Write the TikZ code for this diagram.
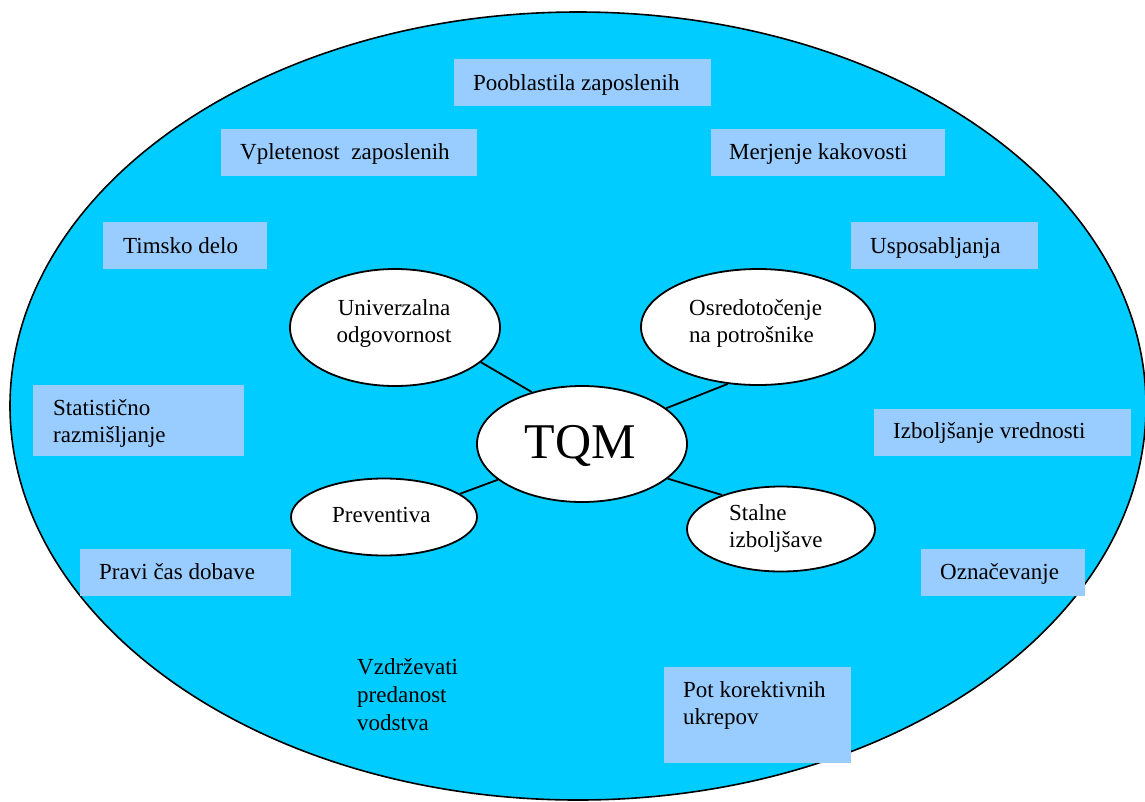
\documentclass[tikz,border=0pt]{standalone}
\usepackage{fontspec}
\setmainfont{Liberation Serif}
\usetikzlibrary{shapes.geometric}
\definecolor{bigfill}{RGB}{0,204,255}
\definecolor{boxfill}{RGB}{153,204,255}
\begin{document}
\begin{tikzpicture}[x=1pt,y=-1pt,
  txt/.style={font=\fontsize{23}{27}\selectfont, inner sep=0pt, align=left, anchor=base west},
  ctxt/.style={font=\fontsize{23}{27}\selectfont, inner sep=0pt, align=center, anchor=base},
  box/.style={fill=boxfill, draw=none, inner sep=0pt, anchor=north west},
  oval/.style={ellipse, draw=black, fill=white, line width=1.8pt, inner sep=0pt},
  link/.style={line width=1.8pt}]
\useasboundingbox (0,0) rectangle (1145,801);
% background field
\node[ellipse, draw=black, fill=bigfill, line width=1.6pt, inner sep=0pt,
      minimum width=1136pt, minimum height=788pt] (field) at (578,406) {};

% boxes (multi-line texts are placed by the baseline of their last line)
\node[box, minimum width=257pt, minimum height=47pt] (b1) at (454,59) {};
\node[txt] (t1) at (473,90) {Pooblastila zaposlenih};
\node[box, minimum width=256pt, minimum height=47pt] (b2) at (221,129) {};
\node[txt] (t2) at (240,159) {Vpletenost\ \ zaposlenih};
\node[box, minimum width=234pt, minimum height=47pt] (b3) at (711,129) {};
\node[txt] (t3) at (729,159) {Merjenje kakovosti};
\node[box, minimum width=164pt, minimum height=47pt] (b4) at (103,222) {};
\node[txt] (t4) at (123,253) {Timsko delo};
\node[box, minimum width=187pt, minimum height=47pt] (b5) at (851,222) {};
\node[txt] (t5) at (870,253) {Usposabljanja};
\node[box, minimum width=211pt, minimum height=71pt] (b6) at (33,385) {};
\node[txt] (t6) at (53,442) {Statistično\\razmišljanje};
\node[box, minimum width=257pt, minimum height=47pt] (b7) at (874,409) {};
\node[txt] (t7) at (893,438) {Izboljšanje vrednosti};
\node[box, minimum width=211pt, minimum height=47pt] (b8) at (80,549) {};
\node[txt] (t8) at (99,579) {Pravi čas dobave};
\node[box, minimum width=164pt, minimum height=47pt] (b9) at (921,549) {};
\node[txt] (t9) at (940,579) {Označevanje};
\node[box, minimum width=187pt, minimum height=96pt] (b10) at (664,667) {};
\node[txt] (t10) at (683,724) {Pot korektivnih\\ukrepov};
\node[txt, font=\fontsize{23}{28}\selectfont] (t11) at (357,730) {Vzdrževati\\predanost\\vodstva};

% ellipses
\node[oval, minimum width=210pt, minimum height=117pt] (univ) at (395,327.5) {};
\node[ctxt] (univT) at (394,342) {Univerzalna\\odgovornost};
\node[oval, minimum width=234pt, minimum height=116pt] (osr) at (758,327) {};
\node[txt] (osrT) at (689,342) {Osredotočenje\\na potrošnike};
\node[oval, minimum width=210pt, minimum height=116pt] (tqm) at (582,444) {};
\node[font=\fontsize{50}{60}\selectfont, inner sep=0pt, anchor=base] (tqmT) at (580,458) {TQM};
\node[oval, minimum width=186pt, minimum height=77pt] (prev) at (384,517) {};
\node[txt] (prevT) at (332,522) {Preventiva};
\node[oval, minimum width=188pt, minimum height=85pt] (stal) at (781,529) {};
\node[txt] (stalT) at (729,547) {Stalne\\izboljšave};

% connectors
\draw[link] (univ.-22.6) -- (tqm.134);
\draw[link] (osr.242) -- (tqm.23);
\draw[link] (tqm.203.4) -- (prev.17.7);
\draw[link] (tqm.-22.6) -- (stal.150);
\end{tikzpicture}
\end{document}
